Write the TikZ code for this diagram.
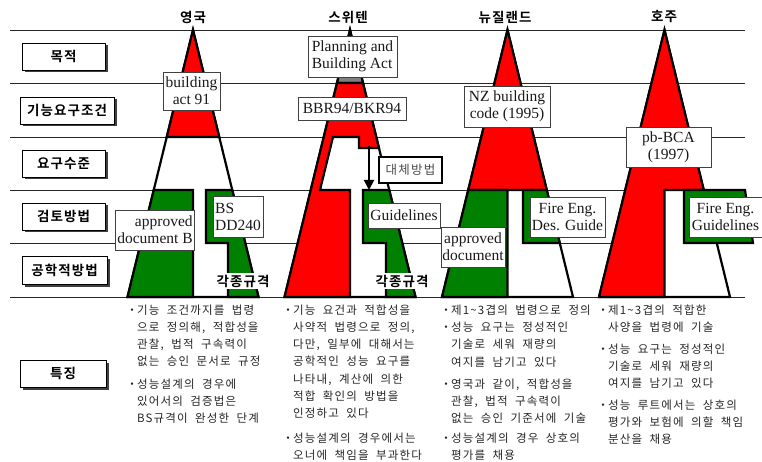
\documentclass[tikz,border=0pt]{standalone}
\usepackage{fontspec}
\setmainfont{Liberation Serif}
\newfontfamily\krreg[LetterSpace=10,WordSpace=2]{Noto Sans CJK KR}
\newfontfamily\krb[LetterSpace=8]{Noto Sans CJK KR Bold}
\usetikzlibrary{shadows,arrows.meta}
\definecolor{grn}{RGB}{0,128,0}
\definecolor{gry}{RGB}{128,128,128}
\newcommand\bul{\llap{\makebox[0pt]{・}\hspace{5pt}}}
\begin{document}
\begin{tikzpicture}[x=1pt,y=-1pt,
  gridline/.style={line width=0.8pt, draw=black!85},
  tri/.style={line width=2.2pt, draw=black, fill=white},
  redpart/.style={line width=2.2pt, draw=black, fill=red},
  greenpart/.style={line width=2.2pt, draw=black, fill=grn},
  graypart/.style={line width=2.2pt, draw=black, fill=gry},
  lab/.style={draw=black, line width=0.8pt, fill=white, inner sep=1pt,
    minimum height=27pt, font=\krb\fontsize{13.5}{15}\selectfont,
    drop shadow={shadow xshift=2.5pt, shadow yshift=-2.5pt, fill=black!75, opacity=1}},
  hdr/.style={inner sep=1pt, font=\krb\fontsize{13.5}{15}\selectfont},
  ebox/.style={draw=black!75, line width=0.8pt, fill=white, inner sep=1.5pt,
    font=\fontsize{15.5}{17}\selectfont, text=black!90},
  std/.style={fill=white, inner sep=1.5pt, font=\krb\fontsize{13.5}{15}\selectfont},
  para/.style={anchor=base west, inner sep=0pt, align=left, text=black!85,
    font=\krreg\fontsize{11.5}{17.3}\selectfont}]
\useasboundingbox (0,0) rectangle (762,462);
\fill[white] (0,0) rectangle (762,462);
% grid lines
\foreach \yy in {30,83,137,190,243,297}
  \draw[gridline] (10,\yy) -- (745,\yy);

% ---------- UK ----------
\draw[tri] (193,30) -- (127.5,297) -- (258.5,297) -- cycle;
\draw[redpart] (193,30) -- (166.75,137) -- (219.25,137) -- cycle;
\draw[greenpart] (153.75,190) -- (193,190) -- (193,297) -- (127.5,297) -- cycle;
\draw[greenpart] (206,190) -- (232.25,190) -- (258.5,297) -- (228,297) -- (228,243) -- (206,243) -- cycle;

% ---------- Sweden ----------
\draw[tri] (350,30) -- (284.5,297) -- (415.5,297) -- cycle;
\draw[graypart] (350,30) -- (337,83) -- (363,83) -- cycle;
\draw[redpart] (337,83) -- (363,83) -- (378.95,148) -- (359,148) -- (359,137) -- (333,137)
  -- (320,190) -- (350,190) -- (350,297) -- (284.5,297) -- cycle;
\draw[greenpart] (363,190) -- (389.25,190) -- (415.5,297) -- (386,297) -- (386,243) -- (363,243) -- cycle;

% ---------- New Zealand ----------
\draw[tri] (507.5,30) -- (442,297) -- (573,297) -- cycle;
\draw[redpart] (507.5,30) -- (468.25,190) -- (546.75,190) -- cycle;
\draw[greenpart] (468.25,190) -- (507.5,190) -- (507.5,297) -- (442,297) -- cycle;
\draw[greenpart] (523,190) -- (546.75,190) -- (559.75,243) -- (523,243) -- cycle;

% ---------- Australia ----------
\draw[tri] (664.5,30) -- (599,297) -- (730,297) -- cycle;
\draw[redpart] (664.5,30) -- (599,297) -- (664.5,297) -- (664.5,190) -- (703.75,190) -- cycle;
\draw[greenpart] (684,190) -- (745,190) -- (753,243) -- (684,243) -- cycle;

% headers
\node[hdr] (h-uk) at (193,17) {영국};
\node[hdr] (h-se) at (348,17) {스위텐};
\node[hdr] (h-nz) at (505,17) {뉴질랜드};
\node[hdr] (h-au) at (664,17) {호주};

% left labels
\node[lab, minimum width=83pt] (l1) at (63.5,56.5) {목적};
\node[lab, minimum width=94pt] (l2) at (67,110.5) {기능요구조건};
\node[lab, minimum width=83pt] (l3) at (63.5,163.5) {요구수준};
\node[lab, minimum width=83pt] (l4) at (63.5,216.5) {검토방법};
\node[lab, minimum width=85pt, minimum height=28pt] (l5) at (64.5,270) {공학적방법};
\node[lab, minimum width=86pt] (l6) at (63,373.5) {특징};

% standards text
\node[std] (uk-std) at (243,281) {각종규격};
\node[std] (se-std) at (402,281) {각종규격};

% Sweden arrow
\coordinate (se-notch) at (369,146);
\coordinate (se-gtop) at (369,190);
\draw[line width=2pt, -{Triangle[length=10pt,width=10pt]}] (se-notch) -- (se-gtop);

% label boxes
\node[ebox, align=center, minimum width=57pt, minimum height=38pt] (uk-act) at (191.5,91) {building\\act 91};
\node[ebox, align=right, minimum width=78pt, minimum height=40pt] (uk-adb) at (155,230) {approved\\document B};
\node[ebox, align=left, minimum width=50pt, minimum height=41pt] (uk-bs) at (238,216.5) {BS\\DD240};
\node[ebox, align=left, minimum width=89pt, minimum height=41pt] (se-pba) at (352.5,56.5) {Planning and\\Building Act};
\node[ebox, minimum width=108pt, minimum height=23pt] (se-bbr) at (352,108.5) {BBR94/BKR94};
\node[draw=black, line width=2pt, fill=white, inner sep=1pt, minimum width=63pt, minimum height=26pt,
  text=black!70, font=\krreg\fontsize{12.5}{14}\selectfont] (se-alt) at (410.5,170) {대체방법};
\node[ebox, minimum width=72pt, minimum height=25pt] (se-gl) at (404,215.5) {Guidelines};
\node[ebox, align=center, minimum width=86pt, minimum height=41pt] (nz-code) at (507,106.5) {NZ building\\code (1995)};
\node[ebox, align=center, minimum width=64pt, minimum height=40pt] (nz-ad) at (473,247) {approved\\document};
\node[ebox, align=center, minimum width=75pt, minimum height=40pt] (nz-fe) at (567.5,217) {Fire Eng.\\Des. Guide};
\node[ebox, align=center, minimum width=73pt, minimum height=40pt] (au-fe) at (725.5,217) {Fire Eng.\\Guidelines};
\node[ebox, align=center, minimum width=85pt, minimum height=40pt] (au-bca) at (668.5,147) {pb-BCA\\(1997)};

% characteristics text (anchor = baseline of the last line)
\node[para] (uk-p1) at (137,365.9) {\bul 기능 조건까지를 법령\\으로 정의해, 적합성을\\관찰, 법적 구속력이\\없는 승인 문서로 규정};
\node[para] (uk-p2) at (137,422.6) {\bul 성능설계의 경우에\\있어서의 검증법은\\BS규격이 완성한 단계};
\node[para] (se-p1) at (293,417.8) {\bul 기능 요건과 적합성을\\사약적 법령으로 정의,\\다만, 일부에 대해서는\\공학적인 성능 요구를\\나타내, 계산에 의한\\적합 확인의 방법을\\인정하고 있다};
\node[para] (se-p2) at (293,459.3) {\bul 성능설계의 경우에서는\\오너에 책임을 부과한다};
\node[para] (nz-p1) at (451,314) {\bul 제1\textasciitilde3겹의 법령으로 정의};
\node[para] (nz-p2) at (451,366.1) {\bul 성능 요구는 정성적인\\기술로 세워 재량의\\여지를 남기고 있다};
\node[para] (nz-p3) at (451,422.6) {\bul 영국과 같이, 적합성을\\관찰, 법적 구속력이\\없는 승인 기준서에 기술};
\node[para] (nz-p4) at (451,459.3) {\bul 성능설계의 경우 상호의\\평가를 채용};
\node[para] (au-p1) at (608,331.3) {\bul 제1\textasciitilde3겹의 적합한\\사양을 법령에 기술};
\node[para] (au-p2) at (608,387.6) {\bul 성능 요구는 정성적인\\기술로 세워 재량의\\여지를 남기고 있다};
\node[para] (au-p3) at (608,443.6) {\bul 성능 루트에서는 상호의\\평가와 보험에 의할 책임\\분산을 채용};
\end{tikzpicture}
\end{document}
